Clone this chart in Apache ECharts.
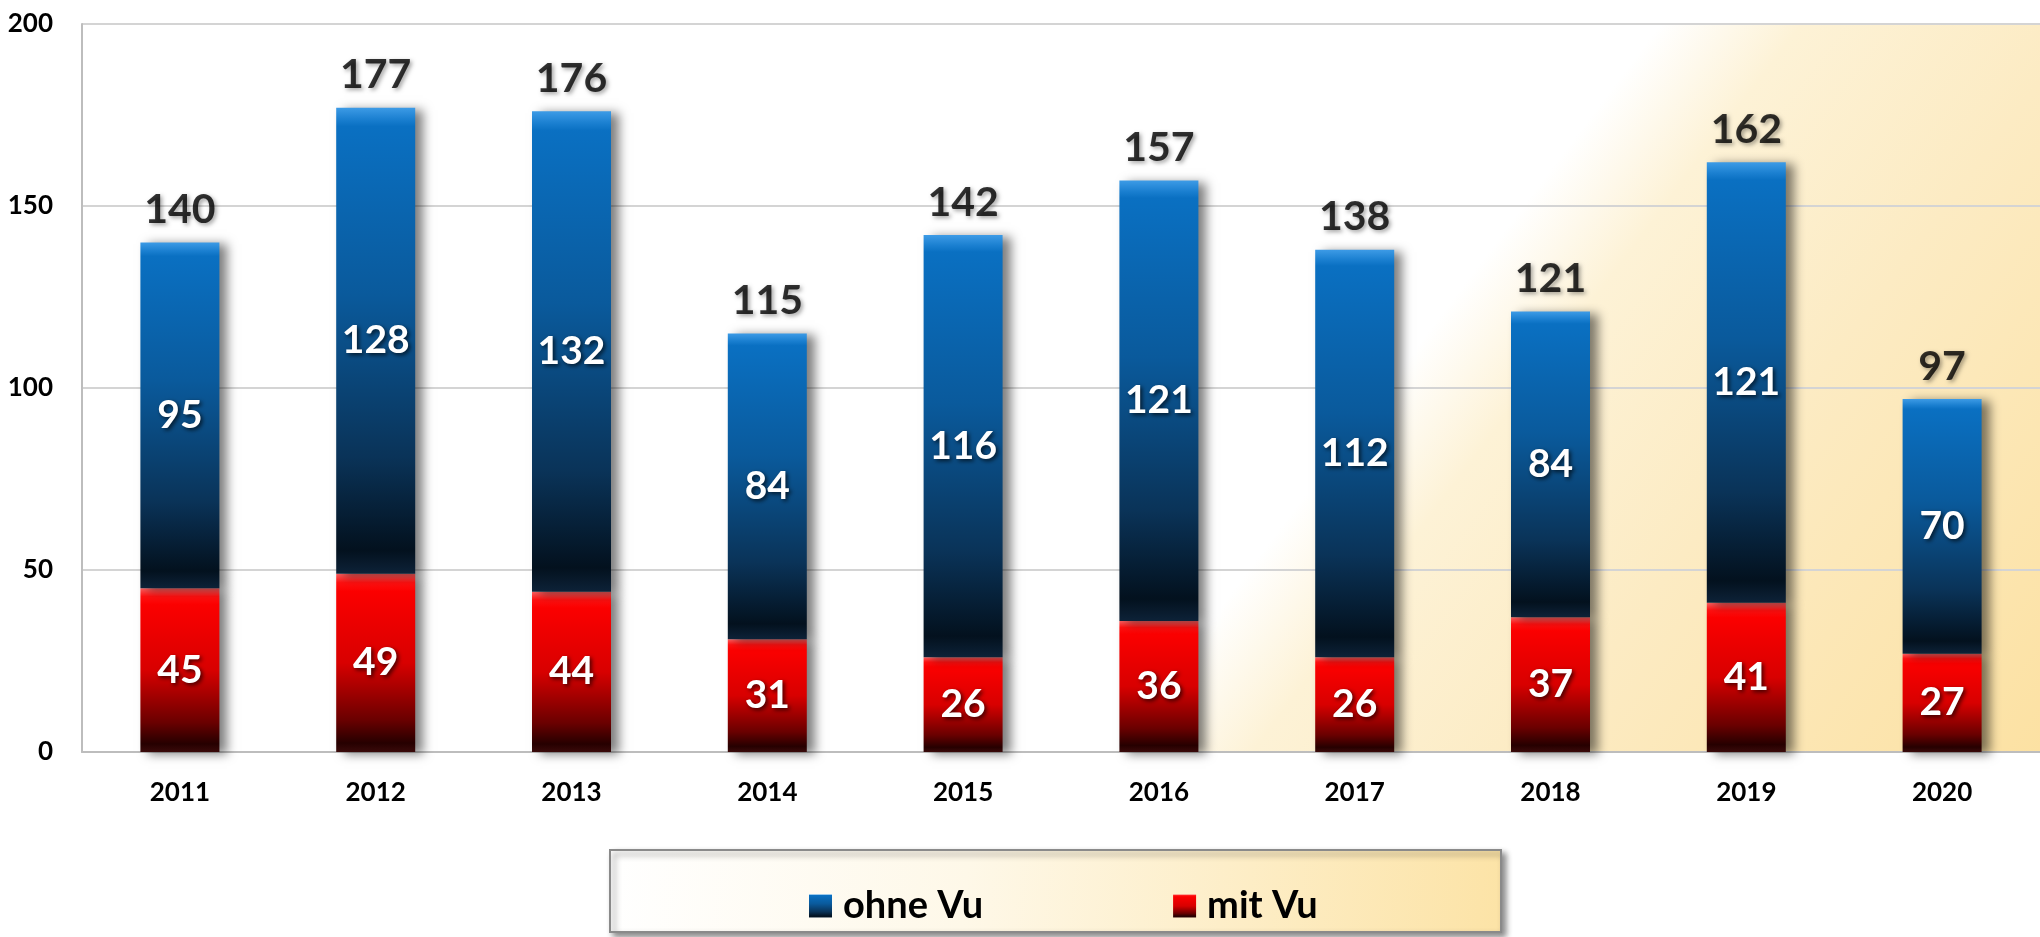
<!DOCTYPE html>
<html>
<head>
<meta charset="utf-8">
<title>ohne Vu / mit Vu</title>
<script src="https://cdn.jsdelivr.net/npm/echarts@6/dist/echarts.min.js"></script>
<style>
    html, body { margin: 0; padding: 0; background: #fff; }
    #chart { width: 2040px; height: 937px; }
</style>
</head>
<body>
<div id="chart"></div>
<script>
const years = ['2011', '2012', '2013', '2014', '2015', '2016', '2017', '2018', '2019', '2020'];
const ohneVu = [95, 128, 132, 84, 116, 121, 112, 84, 121, 70];
const mitVu = [45, 49, 44, 31, 26, 36, 26, 37, 41, 27];
const totals = [140, 177, 176, 115, 142, 157, 138, 121, 162, 97];

const FONT = 'Lato';

function barGradient(stops) {
    return new echarts.graphic.LinearGradient(0, 0, 0, 1, stops.map(function (s) {
        return { offset: s[0], color: s[1] };
    }));
}

const blueFill = barGradient([
    [0, '#3d9be6'], [0.025, '#1a7fd0'], [0.04, '#0a70c2'],
    [0.4, '#0a5a9c'], [0.75, '#0a3358'], [0.95, '#03111e'], [1, '#0d2238']
]);
const redFill = barGradient([
    [0, '#ff6060'], [0.05, '#ff1010'], [0.1, '#fb0000'],
    [0.5, '#d80000'], [0.82, '#6a0000'], [0.95, '#260000'], [1, '#3a0a0a']
]);

const chart = echarts.init(document.getElementById('chart'));

const barShadow = {
    shadowColor: 'rgba(0, 0, 0, 0.5)',
    shadowBlur: 10,
    shadowOffsetX: 8,
    shadowOffsetY: 2
};

const innerLabel = {
    show: true,
    position: 'inside',
    color: '#fff',
    fontFamily: FONT,
    fontWeight: 'bold',
    fontSize: 39,
    textShadowColor: 'rgba(0, 0, 0, 0.7)',
    textShadowBlur: 4,
    textShadowOffsetX: 2,
    textShadowOffsetY: 2
};

const option = {
    backgroundColor: '#fff',
    animation: false,
    grid: {
        left: 82,
        top: 24,
        width: 1966,
        height: 728,
        show: true,
        borderWidth: 0,
        backgroundColor: new echarts.graphic.LinearGradient(1069, 808, 1668, 1260, [
            { offset: 0, color: '#ffffff' },
            { offset: 0.15, color: '#fdf2d6' },
            { offset: 0.45, color: '#fcebc3' },
            { offset: 1, color: '#fce1a2' }
        ], true)
    },
    legend: {
        data: ['ohne Vu', 'mit Vu'],
        left: 804,
        top: 882,
        itemWidth: 23,
        itemHeight: 23,
        itemGap: 190,
        icon: 'rect',
        textStyle: {
            fontFamily: FONT,
            fontWeight: 'bold',
            fontSize: 38,
            color: '#000',
            padding: [0, 0, 0, 6]
        }
    },
    xAxis: {
        type: 'category',
        data: years,
        axisLine: { show: true, lineStyle: { color: '#bdbdbd', width: 2 } },
        axisTick: { show: false },
        axisLabel: {
            margin: 28,
            color: '#000',
            fontFamily: FONT,
            fontWeight: 'bold',
            fontSize: 26
        }
    },
    yAxis: {
        type: 'value',
        min: 0,
        max: 200,
        interval: 50,
        axisLine: { show: true, lineStyle: { color: '#bdbdbd', width: 2 } },
        axisTick: { show: false },
        splitLine: { lineStyle: { color: '#d4d4d4', width: 2 } },
        axisLabel: {
            margin: 29,
            color: '#000',
            fontFamily: FONT,
            fontWeight: 'bold',
            fontSize: 26
        }
    },
    series: [
        {
            name: 'mit Vu',
            type: 'bar',
            stack: 'total',
            barWidth: 79,
            data: mitVu,
            itemStyle: Object.assign({ color: redFill }, barShadow),
            label: innerLabel
        },
        {
            name: 'ohne Vu',
            type: 'bar',
            stack: 'total',
            barWidth: 79,
            data: ohneVu,
            itemStyle: Object.assign({ color: blueFill }, barShadow),
            label: innerLabel
        },
        {
            name: 'Summe',
            type: 'scatter',
            data: totals,
            symbolSize: 0,
            silent: true,
            label: {
                show: true,
                position: 'top',
                distance: 12,
                color: '#000',
                fontFamily: FONT,
                fontWeight: 'bold',
                fontSize: 41,
                textShadowColor: 'rgba(0, 0, 0, 0.45)',
                textShadowBlur: 4,
                textShadowOffsetX: 2,
                textShadowOffsetY: 2
            }
        }
    ],
    graphic: [{
        type: 'rect',
        z: -1,
        shape: { x: 610, y: 850, width: 891, height: 82 },
        style: {
            fill: new echarts.graphic.LinearGradient(0, 0, 1, 1, [
                { offset: 0, color: '#ffffff' },
                { offset: 0.4, color: '#fef8e8' },
                { offset: 1, color: '#fce3a6' }
            ]),
            stroke: '#8a8a8a',
            lineWidth: 2,
            shadowColor: 'rgba(0, 0, 0, 0.45)',
            shadowBlur: 6,
            shadowOffsetX: 4,
            shadowOffsetY: 4
        }
    }]
};

option && chart.setOption(option);
</script>
</body>
</html>
